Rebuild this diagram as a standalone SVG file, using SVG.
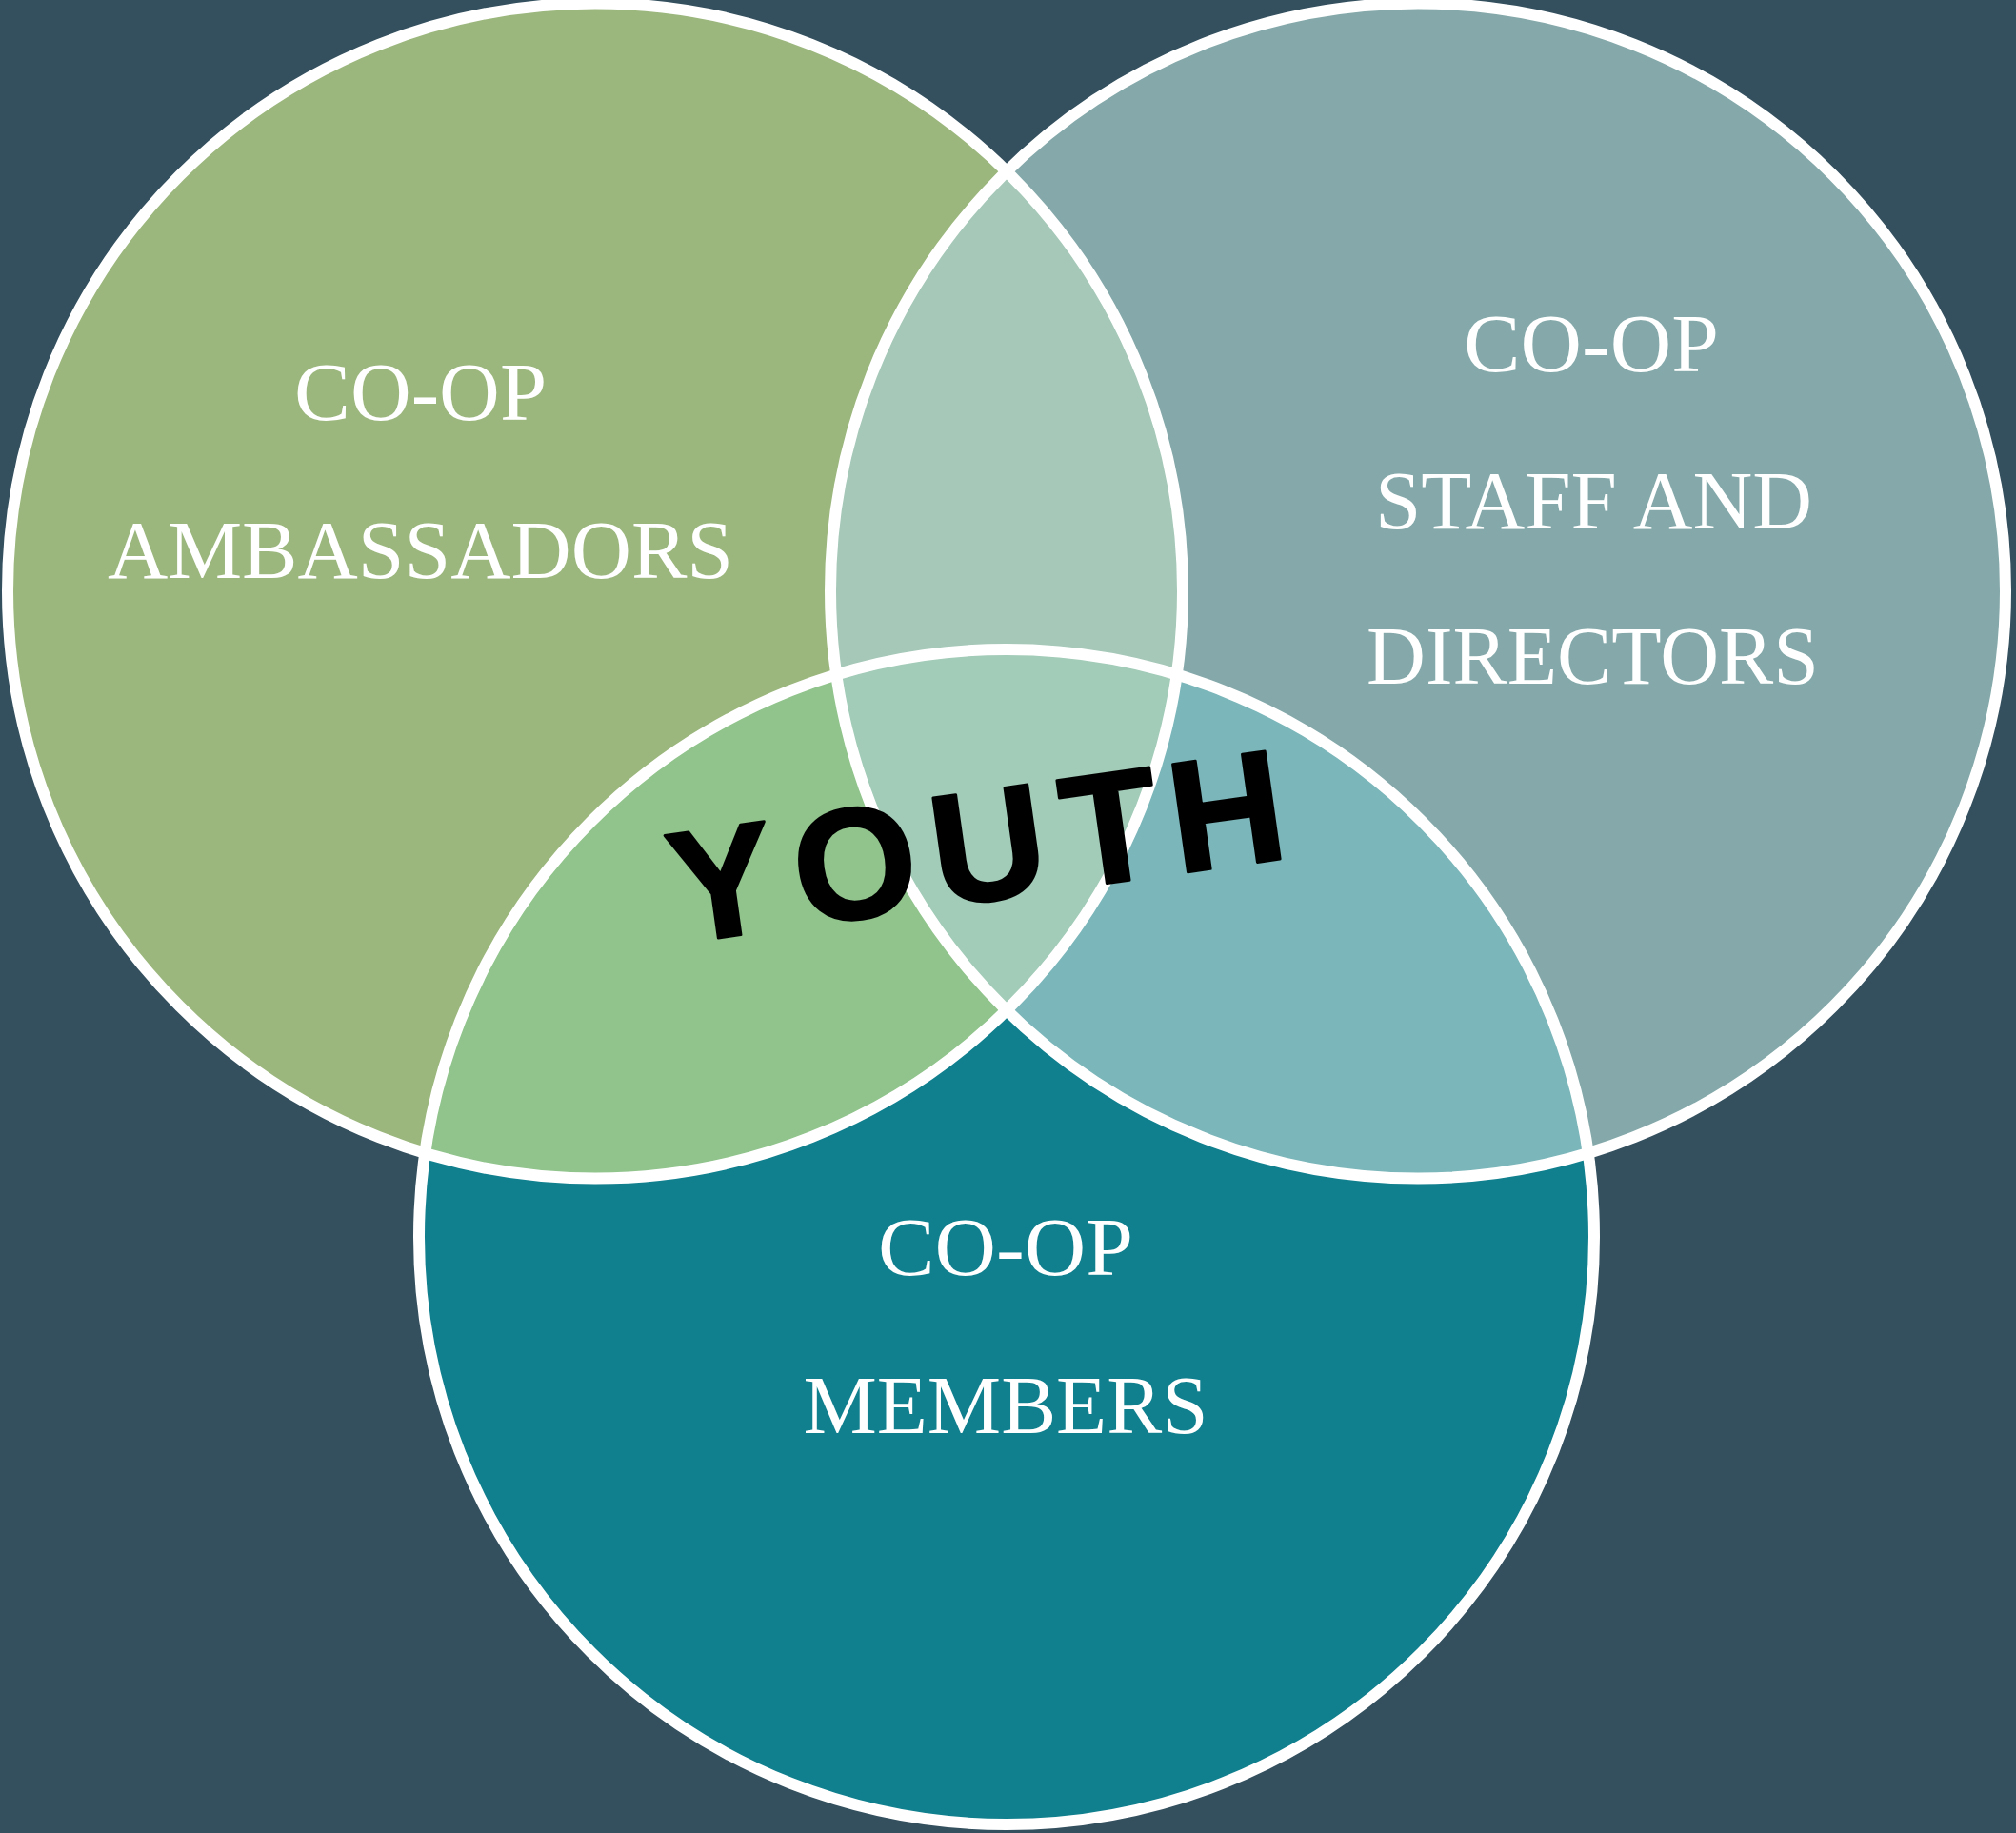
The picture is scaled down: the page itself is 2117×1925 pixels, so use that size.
<svg xmlns="http://www.w3.org/2000/svg" width="2117" height="1925" viewBox="0 0 2117 1925">
<style>
.lbl{font-family:"Liberation Serif","Times New Roman",serif;font-size:86px;fill:#ffffff;text-anchor:middle}
.ring{fill:none;stroke:#ffffff;stroke-width:12}
.youth{font-family:"Liberation Sans",Arial,sans-serif;font-weight:bold;font-size:166px;fill:#000000;stroke:#000000;stroke-width:3;stroke-linejoin:round;text-anchor:middle}
</style>
<defs>
<clipPath id="cL"><circle cx="625" cy="620.5" r="617"/></clipPath>
<clipPath id="cR"><circle cx="1489" cy="620.5" r="617"/></clipPath>
</defs>
<rect x="0" y="0" width="2117" height="1925" fill="#34505f"/>
<g id="fills">
<circle cx="625" cy="620.5" r="617" fill="#9cb77e"/>
<circle cx="1489" cy="620.5" r="617" fill="#85a9aa"/>
<circle cx="1057" cy="1299" r="617" fill="#107f8e"/>
<circle cx="1489" cy="620.5" r="617" fill="#a5c8b8" clip-path="url(#cL)"/>
<circle cx="1057" cy="1299" r="617" fill="#90c48c" clip-path="url(#cL)"/>
<circle cx="1057" cy="1299" r="617" fill="#7bb6ba" clip-path="url(#cR)"/>
<g clip-path="url(#cL)"><circle cx="1057" cy="1299" r="617" fill="#a2cbb8" clip-path="url(#cR)"/></g>
</g>
<g id="connectors"></g>
<g id="node-ambassadors">
<circle class="ring" cx="625" cy="620.5" r="617"/>
<text class="lbl" x="441.5" y="441" font-size="91" textLength="265" lengthAdjust="spacingAndGlyphs">CO-OP</text>
<text class="lbl" x="441.5" y="606.5" textLength="657" lengthAdjust="spacingAndGlyphs">AMBASSADORS</text>
</g>
<g id="node-staff">
<circle class="ring" cx="1489" cy="620.5" r="617"/>
<text class="lbl" x="1671" y="390" textLength="268" lengthAdjust="spacingAndGlyphs">CO-OP</text>
<text class="lbl" x="1673.5" y="555" textLength="459" lengthAdjust="spacingAndGlyphs">STAFF AND</text>
<text class="lbl" x="1672.5" y="718" textLength="475" lengthAdjust="spacingAndGlyphs">DIRECTORS</text>
</g>
<g id="node-members">
<circle class="ring" cx="1057" cy="1299" r="617"/>
<text class="lbl" x="1056" y="1339" textLength="268" lengthAdjust="spacingAndGlyphs">CO-OP</text>
<text class="lbl" x="1056" y="1505" textLength="425" lengthAdjust="spacingAndGlyphs">MEMBERS</text>
</g>
<g id="node-youth" transform="translate(903.8,964) rotate(-8)">
<text class="youth" x="-139 2 143 273 396" y="0">YOUTH</text>
</g>
</svg>
